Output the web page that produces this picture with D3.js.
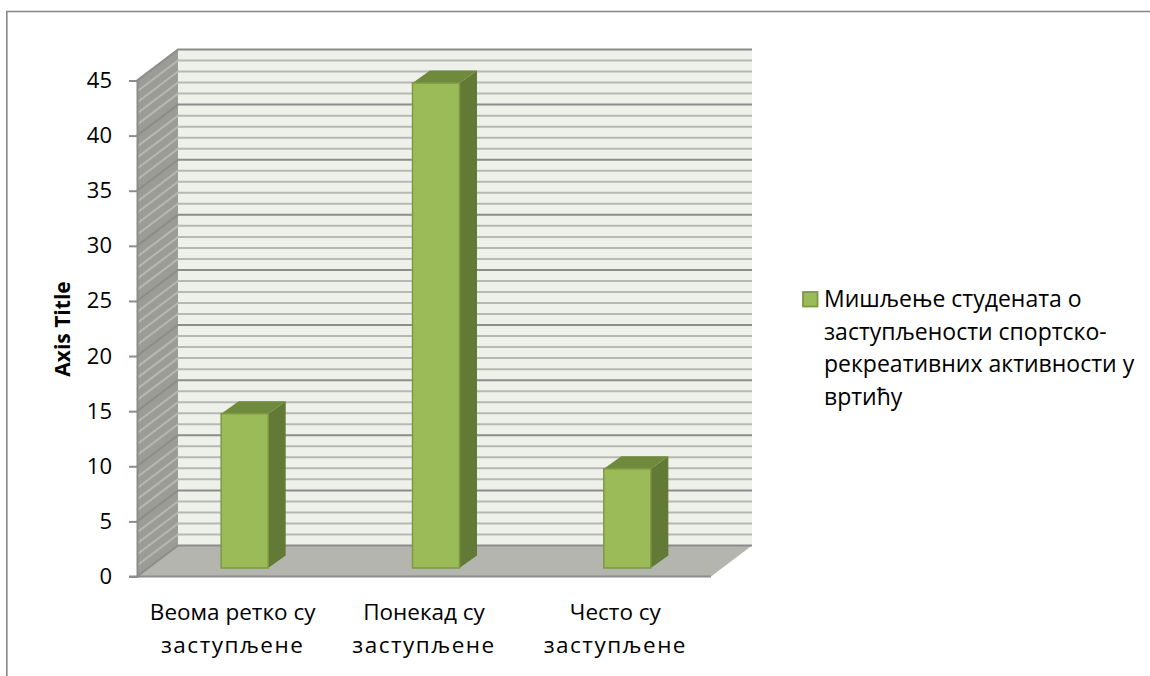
<!DOCTYPE html>
<html>
<head>
<meta charset="utf-8">
<script src="https://cdn.jsdelivr.net/npm/d3@7"></script>
<style>
  html, body { margin: 0; padding: 0; background: #fff; }
  svg { display: block; }
  text { font-family: "Open Sans", sans-serif; fill: #000; }
</style>
</head>
<body>
<div id="chart"></div>
<script>
// chart data
var categories = ["Веома ретко су заступљене", "Понекад су заступљене", "Често су заступљене"];
var category_lines = [["Веома ретко су", "заступљене"], ["Понекад су", "заступљене"], ["Често су", "заступљене"]];
var values = [14, 44, 9];
var tick_values = [0, 5, 10, 15, 20, 25, 30, 35, 40, 45];
var minor_values = d3.range(0, 46);
var axis_title = "Axis Title";
var legend_lines = ["Мишљење студената о", "заступљености спортско-", "рекреативних активности у", "вртићу"];

var width = 1150, height = 676;
var left = 137, right = 711, top_y = 80.5, bottom = 576.5;
var wall_dx = 41, wall_dy = -31;      // depth of the floor/side wall
var bar_dx = 17.5, bar_dy = -12.5;    // depth of a bar
var bar_front_dy = -8.5;

var green = "#9bbb59", green_edge = "#7c9a3f", green_top = "#6f8a3c", green_side = "#627a35";
var wall = "#eef0ea", floor_color = "#b3b5ae", side_color = "#9a9c95";
var major_color = "#8c8c8c", minor_color = "#b7b8b3";

var y = d3.scaleLinear().domain([0, 45]).range([bottom, top_y]);
var x = d3.scaleBand().domain(categories).range([left, right]).padding(0);

var svg = d3.select("#chart").append("svg")
    .attr("width", width)
    .attr("height", height);

svg.append("rect").attr("width", width).attr("height", height).attr("fill", "#fff");

// outer chart border, only top and left are in the frame
svg.append("path")
    .attr("d", "M6.8," + height + "V11.5H" + width)
    .attr("fill", "none")
    .attr("stroke", "#868686")
    .attr("stroke-width", 1.6);

function poly(points) {
    return "M" + points.map(function(p) { return p.join(","); }).join("L") + "Z";
}

// back wall
svg.append("path")
    .attr("d", poly([[left + wall_dx, y(45) + wall_dy], [right + wall_dx, y(45) + wall_dy], [right + wall_dx, y(0) + wall_dy], [left + wall_dx, y(0) + wall_dy]]))
    .attr("fill", wall);

// side wall
svg.append("path")
    .attr("d", poly([[left, y(45)], [left + wall_dx, y(45) + wall_dy], [left + wall_dx, y(0) + wall_dy], [left, y(0)]]))
    .attr("fill", side_color);

// floor
svg.append("path")
    .attr("d", poly([[left, y(0)], [left + wall_dx, y(0) + wall_dy], [right + wall_dx, y(0) + wall_dy], [right, y(0)]]))
    .attr("fill", floor_color);

// gridlines on side wall and back wall
function is_major(d) { return d % 5 === 0; }

svg.selectAll(".grid")
    .data(minor_values.filter(function(d) { return !is_major(d); }).concat(tick_values))
    .enter()
    .append("path")
    .attr("class", "grid")
    .attr("d", function(d) {
        return "M" + left + "," + y(d) + "L" + (left + wall_dx) + "," + (y(d) + wall_dy) + "H" + (right + wall_dx);
    })
    .attr("fill", "none")
    .attr("stroke", function(d) { return is_major(d) ? major_color : minor_color; })
    .attr("stroke-width", 2);

// bars
var bar_width = 47;
var bars = svg.selectAll(".bar")
    .data(values)
    .enter()
    .append("g")
    .attr("class", "bar");

function bar_x(i) { return x(categories[i]) + x.bandwidth() / 2 - bar_width / 2 + 12; }
function bar_h(d) { return y(0) - y(d); }
function bar_base() { return y(0) + bar_front_dy; }

bars.append("path")
    .attr("d", function(d, i) {
        var x0 = bar_x(i), x1 = x0 + bar_width, b = bar_base(), t = b - bar_h(d);
        return poly([[x1, t], [x1 + bar_dx, t + bar_dy], [x1 + bar_dx, b + bar_dy], [x1, b]]);
    })
    .attr("fill", green_side);

bars.append("path")
    .attr("d", function(d, i) {
        var x0 = bar_x(i), x1 = x0 + bar_width, t = bar_base() - bar_h(d);
        return poly([[x0, t], [x0 + bar_dx, t + bar_dy], [x1 + bar_dx, t + bar_dy], [x1, t]]);
    })
    .attr("fill", green_top);

bars.append("rect")
    .attr("x", function(d, i) { return bar_x(i); })
    .attr("y", function(d) { return bar_base() - bar_h(d); })
    .attr("width", bar_width)
    .attr("height", function(d) { return bar_h(d); })
    .attr("fill", green)
    .attr("stroke", green_edge)
    .attr("stroke-width", 1.5);

// y axis
var y_axis = d3.axisLeft(y).tickValues(tick_values).tickSize(8).tickPadding(17);
var axis_g = svg.append("g")
    .attr("transform", "translate(" + left + ",0)")
    .call(y_axis);
axis_g.select(".domain").attr("stroke", major_color).attr("stroke-width", 2);
axis_g.selectAll(".tick line").attr("stroke", major_color).attr("stroke-width", 2);
axis_g.selectAll(".tick text").style("font-size", "22px").attr("fill", "#000");

// bottom front edge
svg.append("line")
    .attr("x1", left - 8)
    .attr("y1", y(0))
    .attr("x2", right)
    .attr("y2", y(0))
    .attr("stroke", major_color)
    .attr("stroke-width", 2);

// axis title
svg.append("text")
    .attr("transform", "translate(70,329) rotate(-90)")
    .attr("text-anchor", "middle")
    .style("font-size", "21px")
    .style("font-weight", "bold")
    .text(axis_title);

// category labels
var cat_g = svg.selectAll(".cat")
    .data(category_lines)
    .enter()
    .append("text")
    .attr("class", "cat")
    .attr("text-anchor", "middle")
    .style("font-size", "22.5px");

// second line is wider in the original font, so open it up a bit
cat_g.selectAll("tspan")
    .data(function(d, i) { return d.map(function(t) { return { t: t, i: i }; }); })
    .enter()
    .append("tspan")
    .attr("x", function(d) { return x(categories[d.i]) + x.bandwidth() / 2; })
    .attr("y", function(d, j) { return 620 + j * 33; })
    .style("letter-spacing", function(d, j) { return j === 1 ? "1.5px" : null; })
    .text(function(d) { return d.t; });

// legend
svg.append("rect")
    .attr("x", 803)
    .attr("y", 292)
    .attr("width", 14.5)
    .attr("height", 14.5)
    .attr("fill", green)
    .attr("stroke", green_edge)
    .attr("stroke-width", 1.8);

svg.selectAll(".legend")
    .data(legend_lines)
    .enter()
    .append("text")
    .attr("class", "legend")
    .attr("x", 824)
    .attr("y", function(d, i) { return 307 + i * 32.7; })
    .style("font-size", "23px")
    .text(function(d) { return d; });
</script>
</body>
</html>
